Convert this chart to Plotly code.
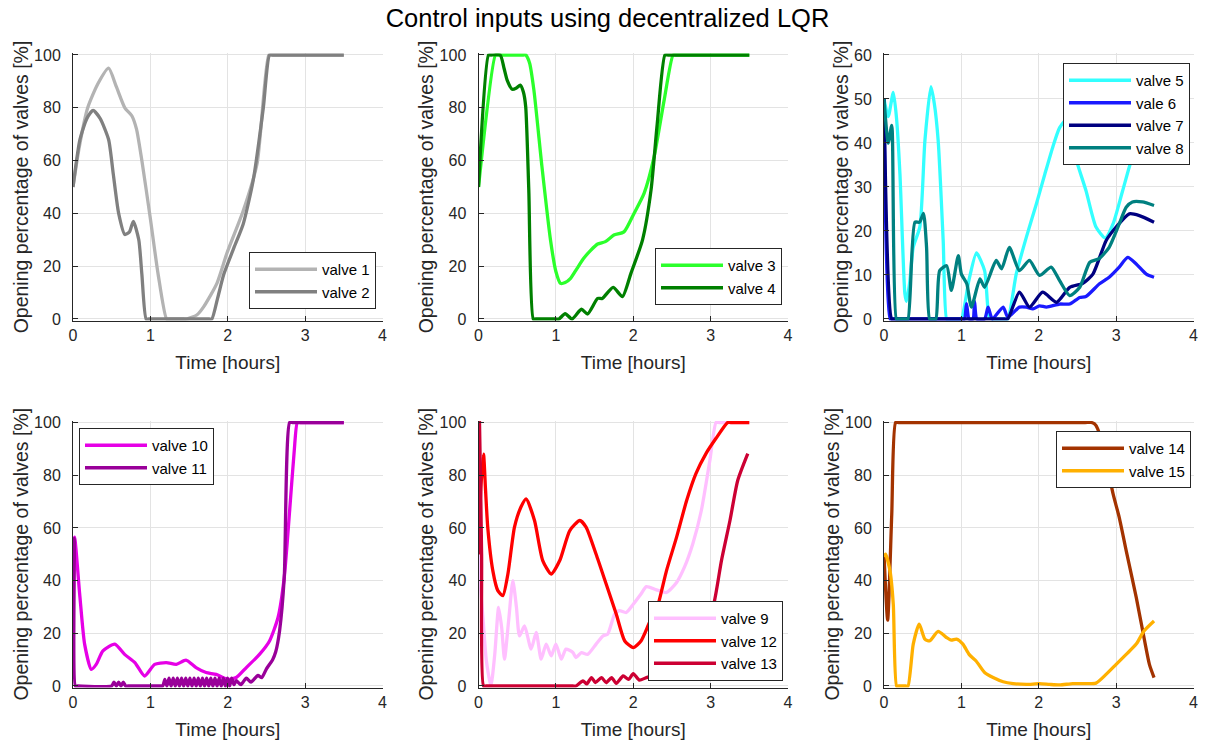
import plotly.graph_objects as go

# ---------------- data (time in hours, opening in %) ----------------
t1 = [0, 0.08, 0.19, 0.32, 0.46, 0.56, 0.67, 0.76, 0.82, 0.89, 1.0, 1.1, 1.21, 1.25, 1.43, 1.47, 1.6, 1.69, 1.86, 1.99, 2.2, 2.38, 2.53, 2.57, 3.5]
v1 = [50, 65, 80, 89, 95, 88, 80, 77, 72, 60, 38, 17, 0, 0, 0, 0, 1.5, 4.7, 13.5, 25, 41, 59, 100, 100, 100]
t2 = [0, 0.09, 0.18, 0.26, 0.35, 0.46, 0.52, 0.59, 0.67, 0.73, 0.78, 0.85, 0.89, 0.945, 0.98, 1.76, 1.795, 1.87, 1.95, 2.08, 2.2, 2.33, 2.46, 2.54, 2.58, 3.5]
v2 = [50, 68, 76, 79, 76, 68, 55, 40, 32, 33, 37, 30, 17, 0, 0, 0, 0, 8, 17, 27, 36, 52.7, 80, 100, 100, 100]

t3 = [0, 0.22, 0.25, 0.58, 0.61, 0.66, 0.716, 0.82, 0.93, 1.0, 1.06, 1.12, 1.19, 1.27, 1.36, 1.45, 1.54, 1.64, 1.75, 1.88, 2.01, 2.14, 2.27, 2.4, 2.515, 2.55, 3.5]
v3 = [50, 100, 100, 100, 100, 97, 86.7, 57.7, 30, 18, 13.5, 13.8, 15.4, 19, 23, 26, 28.4, 29.3, 31.8, 33, 40, 47.6, 61.5, 83, 100, 100, 100]
t4 = [0, 0.13, 0.16, 0.28, 0.33, 0.37, 0.436, 0.49, 0.54, 0.58, 0.61, 0.65, 0.708, 0.74, 1.0, 1.04, 1.12, 1.21, 1.33, 1.41, 1.54, 1.6, 1.74, 1.86, 1.97, 2.12, 2.23, 2.31, 2.41, 2.45, 3.5]
v4 = [50, 100, 100, 100, 95, 90.5, 87, 87.5, 88.6, 86, 80.4, 48.9, 0, 0, 0, 0, 2, 0, 3.7, 1.9, 7.8, 7.8, 12, 8.5, 17.3, 30, 48.9, 74, 100, 100, 100]

t5 = [0, 0.055, 0.12, 0.16, 0.206, 0.27, 0.29, 0.33, 0.378, 0.464, 0.529, 0.606, 0.65, 0.7, 0.765, 0.81, 0.84, 0.97, 1.0, 1.1, 1.195, 1.3, 1.36, 1.4, 1.56, 1.6, 1.71, 1.84, 1.97, 2.08, 2.18, 2.27, 2.37, 2.47, 2.61, 2.74, 2.86, 2.96, 3.085, 3.21, 3.35, 3.5]
v5 = [50, 46, 51.5, 46, 33, 5.7, 4, 8, 16.3, 21, 40.6, 52.8, 49, 40.6, 17.8, 0, 0, 0, 0, 9, 15, 11, 0.4, 0, 0, 0, 10.3, 18.6, 26.2, 33, 39, 43.5, 45.5, 37, 29.2, 20.9, 18.4, 21.6, 29.2, 36.8, 42, 45]
t6 = [0, 0.08, 0.11, 1.0, 1.04, 1.066, 1.1, 1.15, 1.17, 1.2, 1.3, 1.345, 1.4, 1.54, 1.6, 1.75, 1.84, 1.925, 2.01, 2.1, 2.27, 2.4, 2.53, 2.61, 2.785, 2.91, 3.04, 3.15, 3.26, 3.39, 3.49]
v6 = [50, 0, 0, 0, 0, 3.5, 0, 0, 4, 0, 0, 2.7, 0, 2.7, 0.4, 2.7, 2.7, 2.3, 3, 2.7, 3.4, 3.4, 4.9, 5.1, 8, 9.5, 11.8, 14, 12.5, 10.2, 9.5]
t7 = [0, 0.1, 0.13, 1.56, 1.6, 1.75, 1.88, 2.05, 2.23, 2.4, 2.57, 2.7, 2.87, 3.0, 3.17, 3.3, 3.49]
v7 = [50, 0, 0, 0, 0, 6.1, 2.7, 6.1, 3.8, 7.2, 8.1, 10.2, 17.8, 20.9, 23.9, 23.5, 22]
t8 = [0, 0.055, 0.1, 0.16, 0.19, 0.28, 0.31, 0.4, 0.46, 0.51, 0.55, 0.59, 0.63, 0.67, 0.72, 0.81, 0.87, 0.96, 1.0, 1.07, 1.13, 1.24, 1.3, 1.45, 1.52, 1.62, 1.75, 1.88, 2.01, 2.16, 2.27, 2.4, 2.53, 2.66, 2.78, 2.91, 3.04, 3.13, 3.21, 3.34, 3.49]
v8 = [50, 40, 44, 0, 0, 0, 0, 22, 22, 24, 16.3, 0, 0, 0, 11, 12.1, 6.5, 14.4, 10.2, 8, 2.7, 9.1, 7.2, 13.3, 11.4, 16.3, 11, 13.3, 9.9, 11.8, 8.7, 5.3, 7.2, 12.9, 13.7, 16.3, 21.6, 25.4, 26.6, 26.6, 25.8]

t10 = [0, 0.02, 0.086, 0.15, 0.237, 0.3, 0.387, 0.54, 0.667, 0.8, 0.925, 1.055, 1.205, 1.335, 1.46, 1.59, 1.72, 1.85, 2.0, 2.11, 2.24, 2.41, 2.54, 2.65, 2.73, 2.8, 2.86, 2.9, 2.94, 3.5]
v10 = [52, 56.5, 35, 15.9, 6.3, 8.2, 13.3, 15.9, 12, 8.9, 3.8, 8.2, 8.9, 8.2, 9.8, 7, 5.1, 4.4, 2.5, 3.2, 7, 12, 17.1, 26, 41.2, 66.6, 89.5, 100, 100, 100]
t11 = [0, 0.015, 0.03, 0.06, 0.5, 0.53, 0.56, 0.59, 0.62, 0.65, 0.68, 0.71, 1.14,
       1.16, 1.187, 1.214, 1.241, 1.268, 1.295, 1.322, 1.349, 1.376, 1.403, 1.43, 1.457, 1.484, 1.511, 1.538, 1.565,
       1.592, 1.619, 1.646, 1.673, 1.70, 1.727, 1.754, 1.781, 1.808, 1.835, 1.862, 1.889, 1.916, 1.943, 1.97, 1.997,
       2.024, 2.051, 2.08, 2.11, 2.17, 2.24, 2.30, 2.39, 2.44, 2.5, 2.58, 2.62, 2.67, 2.73, 2.8, 2.84, 3.5]
v11 = [54, 56, 0, 0, 0, 1.5, 0, 1.5, 0, 1.5, 0, 0, 0,
       0, 2.5, 0, 3, 0, 3, 0, 3, 0, 3, 0, 3, 0, 3, 0, 3,
       0, 3, 0, 3, 0, 3, 0, 3, 0, 3, 0, 3, 0, 3, 0, 3,
       0, 3, 0.5, 2, 0.5, 3, 1.5, 4, 3.2, 6.5, 10, 13, 21, 41, 100, 100, 100]

t9 = [0, 0.02, 0.06, 0.1, 0.16, 0.21, 0.26, 0.3, 0.336, 0.39, 0.444, 0.49, 0.53, 0.595, 0.68, 0.746, 0.81, 0.875, 0.94, 1.0, 1.07, 1.13, 1.22, 1.26, 1.33, 1.41, 1.52, 1.61, 1.67, 1.76, 1.82, 1.91, 2.0, 2.1, 2.17, 2.3, 2.43, 2.56, 2.66, 2.77, 2.88, 2.99, 3.07, 3.11, 3.5]
v9 = [51, 40, 25, 10, 0, 12, 29.8, 22, 10.2, 25, 40, 30, 19, 22.8, 14, 20.3, 10.2, 15.9, 11.4, 15.9, 10.2, 14, 12.7, 10.8, 12.7, 12, 15.9, 19, 19.7, 27.3, 28.6, 27.9, 31, 34.9, 37.7, 36.5, 35.5, 39.3, 45, 54, 66.6, 85.6, 100, 100, 100]
t12 = [0, 0.03, 0.065, 0.09, 0.12, 0.185, 0.25, 0.315, 0.38, 0.465, 0.55, 0.616, 0.724, 0.83, 0.94, 1.05, 1.18, 1.31, 1.39, 1.52, 1.65, 1.78, 1.89, 2.0, 2.1, 2.21, 2.3, 2.43, 2.56, 2.69, 2.81, 2.94, 3.07, 3.22, 3.26, 3.5]
v12 = [50, 75, 88, 75, 60, 43.8, 36.2, 34.3, 42.5, 60.3, 68, 71, 62.8, 47.6, 42.5, 47.6, 59, 62.8, 60.3, 50, 38.7, 27.3, 17.1, 14.6, 17.1, 24.1, 28.8, 43.8, 56.5, 70.4, 80.6, 88.2, 94, 100, 100, 100]
t13 = [0, 0.013, 0.04, 0.065, 0.1, 1.22, 1.26, 1.35, 1.4, 1.46, 1.51, 1.59, 1.65, 1.72, 1.78, 1.87, 1.94, 2.0, 2.08, 2.17, 2.3, 2.5, 2.7, 2.85, 3.03, 3.14, 3.25, 3.35, 3.48]
v13 = [50, 100, 50, 0, 0, 0, 0, 1.9, 0.8, 3.2, 1.3, 3.2, 1.3, 3.2, 1.0, 3.8, 2.5, 4.7, 2.2, 3.2, 4, 5, 10, 18, 29.8, 47.6, 62.8, 78, 88.2]

t14 = [0, 0.047, 0.1, 0.15, 0.19, 2.6, 2.68, 2.72, 2.76, 2.87, 2.96, 3.04, 3.13, 3.26, 3.36, 3.43, 3.49]
v14 = [50, 25, 65, 100, 100, 100, 100, 99.5, 97.7, 85.7, 73, 64, 51.4, 33.6, 18.4, 8.2, 3.2]
t15 = [0, 0.02, 0.077, 0.12, 0.163, 0.19, 0.28, 0.31, 0.378, 0.455, 0.528, 0.59, 0.7, 0.807, 0.87, 0.936, 1.02, 1.1, 1.19, 1.3, 1.41, 1.54, 1.67, 1.84, 2.01, 2.14, 2.27, 2.44, 2.61, 2.74, 2.87, 3.0, 3.13, 3.26, 3.36, 3.49]
v15 = [49, 50, 43.8, 31, 0, 0, 0, 0, 15.9, 23.5, 17.8, 17.1, 20.7, 18.4, 17.4, 17.8, 15.9, 12, 9.5, 5.1, 3.2, 1.6, 0.9, 0.6, 0.9, 0.6, 0.4, 0.9, 0.9, 1.1, 4.4, 8.2, 12, 15.9, 20.9, 24.7]

x_ticks = [0, 1, 2, 3, 4]
title_text = "Control inputs using decentralized LQR"
x_label = "Time [hours]"
y_label = "Opening percentage of valves [%]"

# ---------------- panel definitions ----------------
panels = [
    dict(series=[("valve 1", t1, v1, "#b3b3b3"), ("valve 2", t2, v2, "#808080")],
         ymax=100, dy=20, col=0, row=0, leg=dict(x=376, y=309, xa="right", ya="bottom")),
    dict(series=[("valve 3", t3, v3, "#2bff2b"), ("valve 4", t4, v4, "#008000")],
         ymax=100, dy=20, col=1, row=0, leg=dict(x=782, y=305, xa="right", ya="bottom")),
    dict(series=[("valve 5", t5, v5, "#33ffff"), ("vale 6", t6, v6, "#1a1aff"),
                 ("valve 7", t7, v7, "#000080"), ("valve 8", t8, v8, "#008080")],
         ymax=60, dy=10, col=2, row=0, leg=dict(x=1190, y=63, xa="right", ya="top")),
    dict(series=[("valve 10", t10, v10, "#e600e6"), ("valve 11", t11, v11, "#990099")],
         ymax=100, dy=20, col=0, row=1, leg=dict(x=79, y=428, xa="left", ya="top")),
    dict(series=[("valve 9", t9, v9, "#ffbfff"), ("valve 12", t12, v12, "#ff0000"),
                 ("valve 13", t13, v13, "#cc0033")],
         ymax=100, dy=20, col=1, row=1, leg=dict(x=783, y=681, xa="right", ya="bottom")),
    dict(series=[("valve 14", t14, v14, "#a33300"), ("valve 15", t15, v15, "#ffb000")],
         ymax=100, dy=20, col=2, row=1, leg=dict(x=1191, y=431, xa="right", ya="top")),
]

W, H = 1215, 745
col_left = [73, 478.5, 884]
col_w = 309.5
row_y0 = [319, 686]     # pixel of value 0
row_y1 = [55, 422.5]    # pixel of value ymax
pad = 0.006             # fraction of range padding so lines on limits are not clipped

FONT = "Liberation Sans, Arial, Helvetica, sans-serif"
AX = "#262626"
GRID = "#e3e3e3"

fig = go.Figure()
layout = dict(
    template="none",
    width=W, height=H, margin=dict(l=0, r=0, t=0, b=0, autoexpand=False),
    paper_bgcolor="white", plot_bgcolor="white",
    font=dict(family=FONT, color=AX, size=16),
    showlegend=True,
)

for i, p in enumerate(panels, start=1):
    sfx = "" if i == 1 else str(i)
    leg_name = "legend" + sfx
    for k, (name, t, v, c) in enumerate(p["series"]):
        fig.add_trace(go.Scatter(
            x=t, y=v, mode="lines", name=name,
            line=dict(color=c, width=3.3, shape="spline", smoothing=0.6),
            xaxis="x" + sfx, yaxis="y" + sfx,
            legend=leg_name, legendgroup=f"g{i}_{k}",
        ))
    ymax = p["ymax"]
    y0p, y1p = row_y0[p["row"]], row_y1[p["row"]]
    pxu = (y0p - y1p) / ymax
    bot = y0p + pad * ymax * pxu
    top = y1p - pad * ymax * pxu
    xl = col_left[p["col"]]
    layout["xaxis" + sfx] = dict(
        domain=[xl / W, (xl + col_w) / W], anchor="y" + sfx, range=[0, 4],
        automargin=False,
        tickvals=x_ticks, ticks="inside", ticklen=5, tickcolor=AX,
        showline=True, linecolor=AX, linewidth=1, mirror=False,
        showgrid=True, gridcolor=GRID, gridwidth=1, zeroline=False,
        tickfont=dict(size=16, color=AX), ticklabelstandoff=0,
        title=dict(text=x_label, font=dict(size=19, color=AX), standoff=12),
    )
    layout["yaxis" + sfx] = dict(
        domain=[1 - bot / H, 1 - top / H], anchor="x" + sfx,
        range=[-pad * ymax, ymax * (1 + pad)],
        automargin=False,
        tickvals=list(range(0, ymax + 1, p["dy"])), ticks="inside", ticklen=5, tickcolor=AX,
        showline=True, linecolor=AX, linewidth=1, mirror=False,
        showgrid=True, gridcolor=GRID, gridwidth=1, zeroline=False,
        tickfont=dict(size=16, color=AX), ticklabelstandoff=8,
        title=dict(text=y_label, font=dict(size=19.5, color=AX), standoff=0),
    )
    lg = p["leg"]
    layout[leg_name] = dict(
        x=lg["x"] / W, y=1 - lg["y"] / H, xanchor=lg["xa"], yanchor=lg["ya"],
        xref="paper", yref="paper",
        bgcolor="white", bordercolor=AX, borderwidth=1,
        font=dict(size=15, color="black", family=FONT),
        tracegroupgap=0, traceorder="grouped", itemwidth=62,
    )

layout["title"] = dict(text=title_text, x=0.5, xanchor="center", y=1 - 18 / H, yanchor="middle",
                       xref="paper", yref="paper",
                       font=dict(size=25.5, color="black", family=FONT))

fig.update_layout(**layout)
fig.write_html("out.html", config={"displayModeBar": False},
               post_script="document.body.style.margin='0px';")
